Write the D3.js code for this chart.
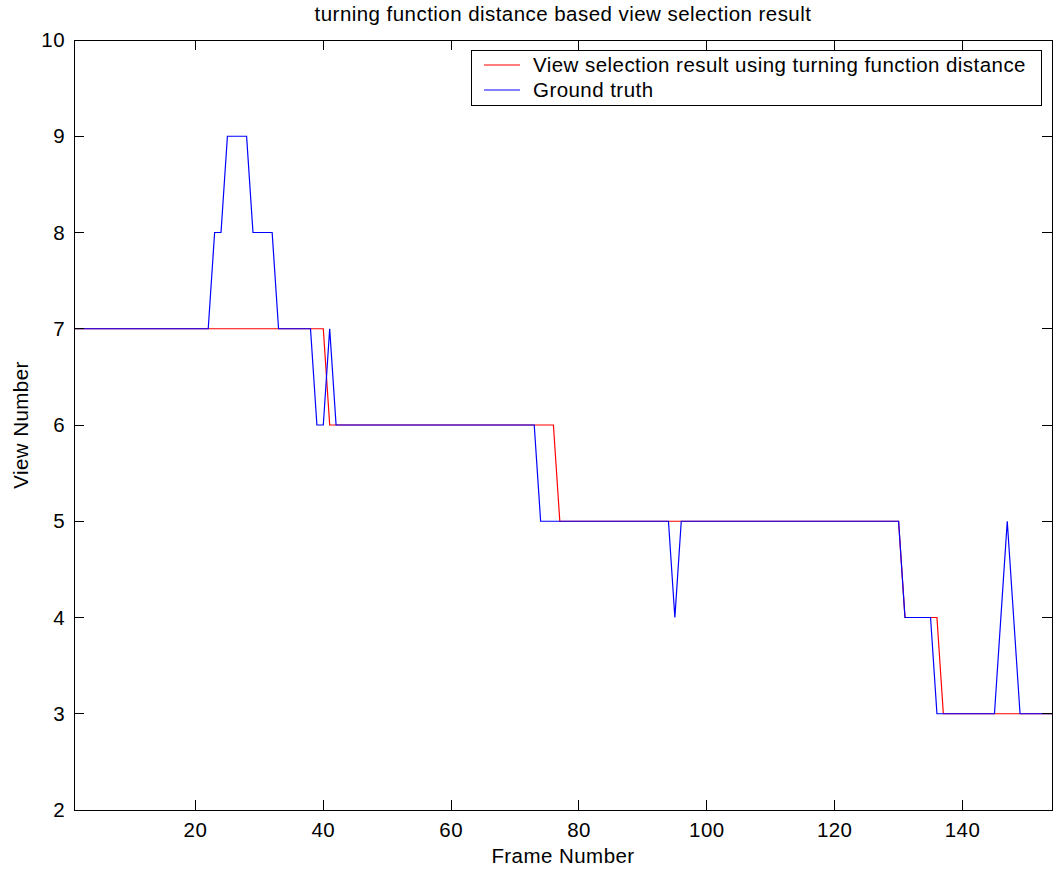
<!DOCTYPE html>
<html>
<head>
<meta charset="utf-8">
<script src="https://cdn.jsdelivr.net/npm/d3@7"></script>
<style>
  html, body { margin: 0; padding: 0; background: #fff; }
  svg { display: block; font-family: "Liberation Sans", Arial, Helvetica, sans-serif; }
  svg text { letter-spacing: 0.45px; }
</style>
</head>
<body>
<svg id="chart" width="1054" height="871"></svg>
<script>
// ---- data ----
const frames = d3.range(1, 155);
// View selection result (red), runs [value, count] over frames 1..154
const resultRuns = [[7, 40], [6, 36], [5, 54], [4, 6], [3, 18]];
// Ground truth (blue), runs [value, count]
const truthRuns = [[7, 22], [8, 2], [9, 4], [8, 4], [7, 6], [6, 2], [7, 1], [6, 32],
                   [5, 21], [4, 1], [5, 35], [4, 5], [3, 10], [4, 1], [5, 1], [4, 1], [3, 6]];
const xTicks = [20, 40, 60, 80, 100, 120, 140];
const yTicks = [2, 3, 4, 5, 6, 7, 8, 9, 10];
const titleText = "turning function distance based view selection result";
const xLabel = "Frame Number";
const yLabel = "View Number";
const seriesNames = ["View selection result using turning function distance", "Ground truth"];
const seriesColors = ["#ff0000", "#0000ff"];

(function () {
  function expand(runs) {
    const out = [];
    runs.forEach(([v, n]) => { for (let i = 0; i < n; i++) out.push(v); });
    return out;
  }
  const resultVals = expand(resultRuns);
  const truthVals = expand(truthRuns);

  const svg = d3.select("#chart");
  const pL = 74, pR = 1052, pT = 40, pB = 810;
  const x = d3.scaleLinear().domain([1, 154]).range([pL, pR]);
  const y = d3.scaleLinear().domain([2, 10]).range([pB, pT]);
  const tickLen = 10;
  const font = 20.5;

  const line = d3.line().x((d, i) => x(frames[i])).y(d => y(d));
  [resultVals, truthVals].forEach((vals, k) => {
    svg.append("path").datum(vals)
      .attr("d", line)
      .attr("fill", "none")
      .attr("stroke", seriesColors[k])
      .attr("stroke-width", 1.2);
  });

  const g = svg.append("g").attr("stroke", "#000").attr("stroke-width", 1).attr("shape-rendering", "crispEdges");
  g.append("rect").attr("x", pL).attr("y", pT).attr("width", pR - pL).attr("height", pB - pT).attr("fill", "none");
  xTicks.forEach(t => {
    g.append("line").attr("x1", x(t)).attr("x2", x(t)).attr("y1", pB).attr("y2", pB - tickLen);
    g.append("line").attr("x1", x(t)).attr("x2", x(t)).attr("y1", pT).attr("y2", pT + tickLen);
  });
  yTicks.forEach(t => {
    g.append("line").attr("y1", y(t)).attr("y2", y(t)).attr("x1", pL).attr("x2", pL + tickLen);
    g.append("line").attr("y1", y(t)).attr("y2", y(t)).attr("x1", pR).attr("x2", pR - tickLen);
  });

  svg.append("g").selectAll("text").data(xTicks).join("text")
    .attr("x", d => x(d)).attr("y", 837)
    .attr("text-anchor", "middle").attr("font-size", font).text(d => d);
  svg.append("g").selectAll("text").data(yTicks).join("text")
    .attr("x", pL - 9).attr("y", d => y(d) + 7)
    .attr("text-anchor", "end").attr("font-size", font).text(d => d);

  svg.append("text").attr("x", (pL + pR) / 2).attr("y", 21)
    .attr("text-anchor", "middle").attr("font-size", font).text(titleText);
  svg.append("text").attr("x", (pL + pR) / 2).attr("y", 863)
    .attr("text-anchor", "middle").attr("font-size", font).text(xLabel);
  svg.append("text").attr("transform", `translate(28,${(pT + pB) / 2}) rotate(-90)`)
    .attr("text-anchor", "middle").attr("font-size", font).text(yLabel);

  const lg = svg.append("g");
  lg.append("rect").attr("x", 471.5).attr("y", 50.5).attr("width", 570).attr("height", 55)
    .attr("fill", "#fff").attr("stroke", "#000").attr("stroke-width", 1);
  seriesNames.forEach((name, i) => {
    const cy = 65 + i * 25;
    lg.append("line").attr("x1", 484).attr("x2", 520).attr("y1", cy).attr("y2", cy)
      .attr("stroke", seriesColors[i]).attr("stroke-width", 1.2);
    lg.append("text").attr("x", 533).attr("y", cy + 7.3).attr("font-size", font).text(name);
  });
})();
</script>
</body>
</html>
